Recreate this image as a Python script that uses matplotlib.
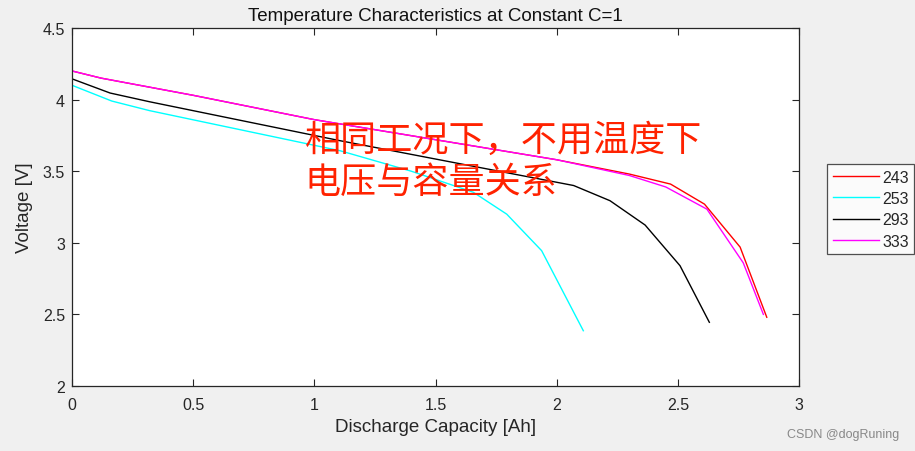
import matplotlib.pyplot as plt

plt.rcParams['font.family'] = ['Liberation Sans', 'DejaVu Sans']

# Discharge capacity [Ah] / voltage [V] per temperature
cap_243 = [0, 0.12, 0.5, 1.0, 1.5, 2.0, 2.3, 2.47, 2.61, 2.757, 2.867]
v_243 = [4.20, 4.15, 4.03, 3.86, 3.72, 3.58, 3.48, 3.41, 3.27, 2.97, 2.48]

cap_253 = [0, 0.164, 0.32, 1.106, 1.4, 1.656, 1.794, 1.938, 2.11]
v_253 = [4.10, 3.99, 3.923, 3.643, 3.50, 3.353, 3.20, 2.945, 2.386]

cap_293 = [0, 0.157, 0.32, 1.106, 1.5, 2.07, 2.22, 2.365, 2.509, 2.63]
v_293 = [4.145, 4.046, 3.985, 3.713, 3.585, 3.40, 3.294, 3.124, 2.84, 2.445]

cap_333 = [0, 0.12, 0.5, 1.0, 1.5, 2.0, 2.3, 2.45, 2.62, 2.77, 2.853]
v_333 = [4.20, 4.15, 4.03, 3.86, 3.72, 3.58, 3.47, 3.39, 3.235, 2.86, 2.50]

labels = ['243', '253', '293', '333']
colors = ['#ff0000', '#00ffff', '#000000', '#ff00ff']

fig = plt.figure(figsize=(9.15, 4.52), dpi=100, facecolor='#f0f0f0')
ax = fig.add_axes([72 / 915, 65 / 452, 727 / 915, 358 / 452])

ax.plot(cap_243, v_243, color=colors[0], lw=1, label=labels[0])
ax.plot(cap_253, v_253, color=colors[1], lw=1, label=labels[1])
ax.plot(cap_293, v_293, color=colors[2], lw=1, label=labels[2])
ax.plot(cap_333, v_333, color=colors[3], lw=1, label=labels[3])

ax.set_xlim(0, 3)
ax.set_ylim(2, 4.5)
ax.set_xticks([0, 0.5, 1, 1.5, 2, 2.5, 3])
ax.set_xticklabels(['0', '0.5', '1', '1.5', '2', '2.5', '3'])
ax.set_yticks([2, 2.5, 3, 3.5, 4, 4.5])
ax.set_yticklabels(['2', '2.5', '3', '3.5', '4', '4.5'])

axis_col = '#262626'
ax.tick_params(direction='in', top=True, right=True, length=5, width=0.8,
               colors=axis_col, labelsize=11.5)
ax.tick_params(axis='x', pad=8)
ax.tick_params(axis='y', pad=5)
for s in ax.spines.values():
    s.set_color(axis_col)
    s.set_linewidth(0.9)

ax.set_title('Temperature Characteristics at Constant C=1', fontsize=13.5, color='#111111', pad=6)
ax.set_xlabel('Discharge Capacity [Ah]', fontsize=13.5, color=axis_col, labelpad=4)
ax.set_ylabel('Voltage [V]', fontsize=13.5, color=axis_col, labelpad=7)

cjk = ['Noto Sans CJK SC', 'DejaVu Sans']
ax.text(0.96, 3.718, '相同工况下，不用温度下', color='#ff2200', fontsize=26,
        family=cjk, va='center', ha='left')
ax.text(0.96, 3.425, '电压与容量关系', color='#ff2200', fontsize=26,
        family=cjk, va='center', ha='left')

leg = fig.legend(loc='upper left', bbox_to_anchor=(827 / 915, 1 - 165 / 452),
                 fontsize=11.5, frameon=True, fancybox=False, handlelength=2.9,
                 borderpad=0.35, labelspacing=0.4, handletextpad=0.2,
                 borderaxespad=0)
leg.get_frame().set_edgecolor(axis_col)
leg.get_frame().set_linewidth(0.9)
for t in leg.get_texts():
    t.set_color(axis_col)

fig.text(0.983, 0.037, 'CSDN @dogRuning', ha='right', va='center',
         fontsize=9, color='#888888')

fig.savefig('out.png', dpi=100, facecolor=fig.get_facecolor())
